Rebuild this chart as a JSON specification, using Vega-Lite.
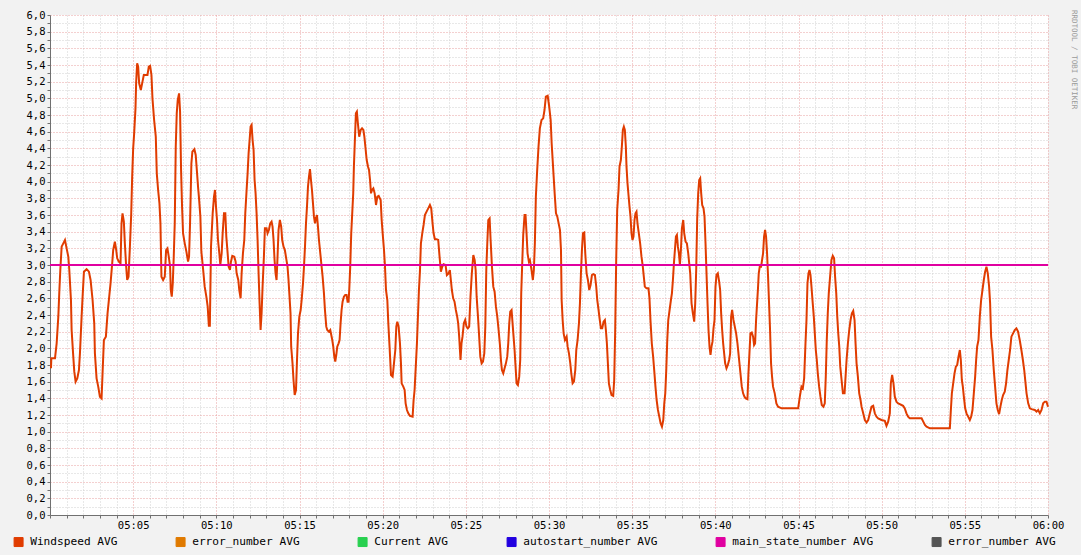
{
 "$schema": "https://vega.github.io/schema/vega-lite/v6.json",
 "width": 998, "height": 500,
 "autosize": {"type": "none"},
 "padding": {"left": 50, "top": 15, "right": 33, "bottom": 40},
 "background": "#F2F2F2",
 "view": {"fill": "#FFFFFF", "stroke": null},
 "title": {"text": "RRDTOOL / TOBI OETIKER", "orient": "right", "anchor": "start", "font": "DejaVu Sans Mono", "fontSize": 7.5, "fontWeight": "normal", "color": "#9a9a9a", "offset": 7},
 "config": {"font": "DejaVu Sans Mono"},
 "datasets": {
  "wind": [
{"t":0.06,"v":1.76},{"t":0.08,"v":1.88},{"t":0.30,"v":1.88},{"t":0.40,"v":2.06},{"t":0.50,"v":2.38},{"t":0.56,"v":2.68},{"t":0.62,"v":2.94},{"t":0.70,"v":3.22},{"t":0.80,"v":3.26},{"t":0.90,"v":3.30},{"t":1.00,"v":3.20},{"t":1.10,"v":3.10},{"t":1.16,"v":2.94},{"t":1.26,"v":2.58},{"t":1.30,"v":2.22},{"t":1.40,"v":1.90},{"t":1.46,"v":1.72},{"t":1.54,"v":1.60},{"t":1.64,"v":1.64},{"t":1.74,"v":1.74},{"t":1.80,"v":1.94},{"t":1.90,"v":2.38},{"t":1.96,"v":2.62},{"t":2.04,"v":2.92},{"t":2.20,"v":2.95},{"t":2.34,"v":2.92},{"t":2.44,"v":2.82},{"t":2.56,"v":2.58},{"t":2.66,"v":2.30},{"t":2.70,"v":1.94},{"t":2.80,"v":1.64},{"t":2.90,"v":1.54},{"t":3.00,"v":1.42},{"t":3.10,"v":1.40},{"t":3.16,"v":1.70},{"t":3.24,"v":2.10},{"t":3.36,"v":2.14},{"t":3.46,"v":2.42},{"t":3.56,"v":2.62},{"t":3.64,"v":2.78},{"t":3.74,"v":3.02},{"t":3.80,"v":3.18},{"t":3.90,"v":3.28},{"t":3.98,"v":3.18},{"t":4.04,"v":3.08},{"t":4.14,"v":3.04},{"t":4.24,"v":3.02},{"t":4.30,"v":3.50},{"t":4.36,"v":3.62},{"t":4.44,"v":3.52},{"t":4.50,"v":3.26},{"t":4.58,"v":2.98},{"t":4.64,"v":2.82},{"t":4.72,"v":2.86},{"t":4.80,"v":3.20},{"t":4.88,"v":3.60},{"t":4.94,"v":4.06},{"t":5.00,"v":4.40},{"t":5.06,"v":4.58},{"t":5.14,"v":4.88},{"t":5.18,"v":5.20},{"t":5.24,"v":5.42},{"t":5.30,"v":5.38},{"t":5.36,"v":5.18},{"t":5.46,"v":5.10},{"t":5.54,"v":5.18},{"t":5.64,"v":5.28},{"t":5.86,"v":5.28},{"t":5.94,"v":5.38},{"t":6.02,"v":5.39},{"t":6.10,"v":5.28},{"t":6.16,"v":5.00},{"t":6.26,"v":4.74},{"t":6.36,"v":4.54},{"t":6.42,"v":4.10},{"t":6.50,"v":3.90},{"t":6.58,"v":3.74},{"t":6.64,"v":3.50},{"t":6.70,"v":2.86},{"t":6.80,"v":2.82},{"t":6.90,"v":2.86},{"t":6.98,"v":3.18},{"t":7.06,"v":3.20},{"t":7.14,"v":3.10},{"t":7.22,"v":2.98},{"t":7.26,"v":2.70},{"t":7.32,"v":2.62},{"t":7.38,"v":2.78},{"t":7.44,"v":3.10},{"t":7.50,"v":3.50},{"t":7.56,"v":4.42},{"t":7.62,"v":4.82},{"t":7.68,"v":4.98},{"t":7.76,"v":5.06},{"t":7.82,"v":4.84},{"t":7.88,"v":4.14},{"t":7.94,"v":3.70},{"t":8.00,"v":3.38},{"t":8.10,"v":3.26},{"t":8.20,"v":3.16},{"t":8.30,"v":3.04},{"t":8.36,"v":3.10},{"t":8.42,"v":3.50},{"t":8.50,"v":4.22},{"t":8.56,"v":4.36},{"t":8.68,"v":4.39},{"t":8.76,"v":4.32},{"t":8.82,"v":4.16},{"t":8.90,"v":3.94},{"t":8.96,"v":3.80},{"t":9.04,"v":3.58},{"t":9.10,"v":3.16},{"t":9.20,"v":2.96},{"t":9.30,"v":2.74},{"t":9.40,"v":2.62},{"t":9.48,"v":2.50},{"t":9.55,"v":2.27},{"t":9.61,"v":2.27},
{"t":9.68,"v":3.22},{"t":9.78,"v":3.62},{"t":9.86,"v":3.82},{"t":9.92,"v":3.90},{"t":9.98,"v":3.70},{"t":10.04,"v":3.54},{"t":10.10,"v":3.30},{"t":10.18,"v":3.14},{"t":10.24,"v":3.00},{"t":10.32,"v":3.14},{"t":10.38,"v":3.38},{"t":10.46,"v":3.62},{"t":10.54,"v":3.62},{"t":10.60,"v":3.34},{"t":10.68,"v":3.14},{"t":10.74,"v":2.98},{"t":10.82,"v":2.94},{"t":10.88,"v":3.04},{"t":10.96,"v":3.11},{"t":11.08,"v":3.10},{"t":11.16,"v":3.04},{"t":11.22,"v":2.90},{"t":11.32,"v":2.82},{"t":11.38,"v":2.70},{"t":11.46,"v":2.60},{"t":11.52,"v":2.90},{"t":11.60,"v":3.14},{"t":11.68,"v":3.30},{"t":11.74,"v":3.62},{"t":11.82,"v":3.90},{"t":11.88,"v":4.10},{"t":11.94,"v":4.34},{"t":12.00,"v":4.50},{"t":12.06,"v":4.66},{"t":12.12,"v":4.68},{"t":12.18,"v":4.50},{"t":12.24,"v":4.38},{"t":12.30,"v":4.02},{"t":12.36,"v":3.86},{"t":12.42,"v":3.62},{"t":12.48,"v":3.30},{"t":12.54,"v":2.90},{"t":12.60,"v":2.54},{"t":12.66,"v":2.22},{"t":12.72,"v":2.42},{"t":12.78,"v":2.74},{"t":12.86,"v":3.10},{"t":12.92,"v":3.44},{"t":13.02,"v":3.44},{"t":13.08,"v":3.38},{"t":13.16,"v":3.42},{"t":13.24,"v":3.50},{"t":13.32,"v":3.52},{"t":13.38,"v":3.46},{"t":13.44,"v":3.30},{"t":13.50,"v":3.06},{"t":13.56,"v":2.90},{"t":13.62,"v":2.82},{"t":13.68,"v":3.10},{"t":13.74,"v":3.42},{"t":13.82,"v":3.54},{"t":13.90,"v":3.46},{"t":13.96,"v":3.30},{"t":14.04,"v":3.22},{"t":14.12,"v":3.18},{"t":14.20,"v":3.08},{"t":14.28,"v":2.98},{"t":14.34,"v":2.82},{"t":14.40,"v":2.62},{"t":14.46,"v":2.42},{"t":14.50,"v":2.02},{"t":14.58,"v":1.82},{"t":14.64,"v":1.62},{"t":14.71,"v":1.44},{"t":14.79,"v":1.50},{"t":14.85,"v":1.86},{"t":14.91,"v":2.18},{"t":14.99,"v":2.38},{"t":15.07,"v":2.46},{"t":15.13,"v":2.58},{"t":15.21,"v":2.78},{"t":15.27,"v":2.98},{"t":15.33,"v":3.22},{"t":15.39,"v":3.50},{"t":15.45,"v":3.70},{"t":15.51,"v":3.94},{"t":15.57,"v":4.06},{"t":15.63,"v":4.15},{"t":15.69,"v":4.02},{"t":15.75,"v":3.90},{"t":15.81,"v":3.74},{"t":15.87,"v":3.58},{"t":15.93,"v":3.50},{"t":15.99,"v":3.56},{"t":16.05,"v":3.60},{"t":16.11,"v":3.46},{"t":16.17,"v":3.30},{"t":16.23,"v":3.18},{"t":16.31,"v":3.02},{"t":16.39,"v":2.86},{"t":16.47,"v":2.66},{"t":16.53,"v":2.46},{"t":16.61,"v":2.26},{"t":16.67,"v":2.22},{"t":16.77,"v":2.20},{"t":16.85,"v":2.22},{"t":16.91,"v":2.16},{"t":16.97,"v":2.10},{"t":17.03,"v":2.02},{"t":17.09,"v":1.90},{"t":17.15,"v":1.84},{"t":17.21,"v":1.92},{"t":17.27,"v":2.02},{"t":17.35,"v":2.06},{"t":17.41,"v":2.10},{"t":17.47,"v":2.30},{"t":17.53,"v":2.46},{"t":17.59,"v":2.56},{"t":17.67,"v":2.62},{"t":17.75,"v":2.64},{"t":17.83,"v":2.64},{"t":17.89,"v":2.56},{"t":17.95,"v":2.56},{"t":17.99,"v":2.70},{"t":18.05,"v":2.98},{"t":18.11,"v":3.38},{"t":18.17,"v":3.62},{"t":18.23,"v":3.86},{"t":18.27,"v":4.18},{"t":18.33,"v":4.50},{"t":18.39,"v":4.82},{"t":18.45,"v":4.84},{"t":18.51,"v":4.70},{"t":18.59,"v":4.54},{"t":18.68,"v":4.62},{"t":18.76,"v":4.64},{"t":18.84,"v":4.62},{"t":18.90,"v":4.54},{"t":18.98,"v":4.38},{"t":19.04,"v":4.26},{"t":19.12,"v":4.18},{"t":19.18,"v":4.14},{"t":19.24,"v":4.02},{"t":19.30,"v":3.86},{"t":19.36,"v":3.90},{"t":19.44,"v":3.92},{"t":19.52,"v":3.86},{"t":19.60,"v":3.72},{"t":19.68,"v":3.82},{"t":19.76,"v":3.83},
{"t":19.88,"v":3.78},{"t":19.94,"v":3.54},{"t":20.00,"v":3.38},{"t":20.08,"v":3.18},{"t":20.14,"v":2.98},{"t":20.20,"v":2.70},{"t":20.28,"v":2.58},{"t":20.34,"v":2.30},{"t":20.42,"v":2.00},{"t":20.50,"v":1.68},{"t":20.60,"v":1.66},{"t":20.68,"v":1.82},{"t":20.76,"v":1.98},{"t":20.82,"v":2.26},{"t":20.88,"v":2.32},{"t":20.96,"v":2.26},{"t":21.04,"v":2.06},{"t":21.10,"v":1.82},{"t":21.14,"v":1.58},{"t":21.24,"v":1.54},{"t":21.32,"v":1.50},{"t":21.38,"v":1.34},{"t":21.46,"v":1.26},{"t":21.54,"v":1.22},{"t":21.64,"v":1.19},{"t":21.80,"v":1.18},{"t":21.86,"v":1.38},{"t":21.92,"v":1.50},{"t":22.00,"v":1.82},{"t":22.06,"v":2.06},{"t":22.12,"v":2.38},{"t":22.18,"v":2.70},{"t":22.24,"v":2.92},{"t":22.30,"v":3.26},{"t":22.38,"v":3.38},{"t":22.46,"v":3.48},{"t":22.54,"v":3.60},{"t":22.64,"v":3.64},{"t":22.74,"v":3.68},{"t":22.84,"v":3.72},{"t":22.92,"v":3.68},{"t":23.00,"v":3.50},{"t":23.06,"v":3.38},{"t":23.14,"v":3.31},{"t":23.24,"v":3.31},{"t":23.34,"v":3.30},{"t":23.42,"v":3.10},{"t":23.50,"v":2.92},{"t":23.58,"v":2.98},{"t":23.66,"v":3.01},{"t":23.78,"v":3.00},{"t":23.86,"v":2.88},{"t":23.96,"v":2.90},{"t":24.04,"v":2.94},{"t":24.10,"v":2.82},{"t":24.16,"v":2.70},{"t":24.24,"v":2.60},{"t":24.32,"v":2.56},{"t":24.40,"v":2.46},{"t":24.48,"v":2.38},{"t":24.54,"v":2.30},{"t":24.60,"v":2.14},{"t":24.68,"v":1.86},{"t":24.74,"v":2.06},{"t":24.80,"v":2.14},{"t":24.88,"v":2.30},{"t":24.96,"v":2.34},{"t":25.04,"v":2.26},{"t":25.12,"v":2.24},{"t":25.20,"v":2.26},{"t":25.28,"v":2.62},{"t":25.36,"v":2.90},{"t":25.45,"v":3.12},{"t":25.53,"v":3.06},{"t":25.59,"v":2.94},{"t":25.65,"v":2.62},{"t":25.73,"v":2.38},{"t":25.79,"v":2.18},{"t":25.87,"v":1.90},{"t":25.95,"v":1.82},{"t":26.03,"v":1.84},{"t":26.11,"v":1.94},{"t":26.17,"v":2.26},{"t":26.23,"v":2.94},{"t":26.29,"v":3.26},{"t":26.35,"v":3.54},{"t":26.43,"v":3.56},{"t":26.49,"v":3.30},{"t":26.57,"v":2.98},{"t":26.65,"v":2.74},{"t":26.73,"v":2.68},{"t":26.81,"v":2.50},{"t":26.89,"v":2.38},{"t":26.97,"v":2.22},{"t":27.05,"v":2.04},{"t":27.11,"v":1.86},{"t":27.17,"v":1.74},{"t":27.25,"v":1.70},{"t":27.33,"v":1.76},{"t":27.41,"v":1.82},{"t":27.49,"v":1.90},{"t":27.55,"v":2.06},{"t":27.61,"v":2.30},{"t":27.67,"v":2.44},{"t":27.75,"v":2.46},{"t":27.81,"v":2.30},{"t":27.87,"v":2.14},{"t":27.93,"v":1.98},{"t":27.99,"v":1.78},{"t":28.05,"v":1.58},{"t":28.13,"v":1.56},{"t":28.21,"v":1.66},{"t":28.27,"v":1.86},{"t":28.33,"v":2.66},{"t":28.39,"v":3.02},{"t":28.45,"v":3.36},{"t":28.53,"v":3.60},{"t":28.59,"v":3.60},{"t":28.65,"v":3.38},{"t":28.71,"v":3.14},{"t":28.79,"v":3.04},
{"t":28.85,"v":3.06},{"t":28.95,"v":2.94},{"t":29.03,"v":2.82},{"t":29.09,"v":2.94},{"t":29.15,"v":3.26},{"t":29.21,"v":3.82},{"t":29.29,"v":4.14},{"t":29.37,"v":4.42},{"t":29.45,"v":4.64},{"t":29.55,"v":4.74},{"t":29.65,"v":4.76},{"t":29.73,"v":4.86},{"t":29.81,"v":5.02},{"t":29.92,"v":5.03},{"t":30.00,"v":4.92},{"t":30.10,"v":4.74},{"t":30.16,"v":4.46},{"t":30.22,"v":4.26},{"t":30.28,"v":4.06},{"t":30.34,"v":3.86},{"t":30.42,"v":3.62},{"t":30.50,"v":3.58},{"t":30.58,"v":3.50},{"t":30.66,"v":3.42},{"t":30.72,"v":3.18},{"t":30.76,"v":2.58},{"t":30.82,"v":2.34},{"t":30.88,"v":2.18},{"t":30.96,"v":2.10},{"t":31.06,"v":2.14},{"t":31.12,"v":2.02},{"t":31.20,"v":1.94},{"t":31.28,"v":1.82},{"t":31.34,"v":1.70},{"t":31.42,"v":1.58},{"t":31.50,"v":1.60},{"t":31.58,"v":1.74},{"t":31.64,"v":1.98},{"t":31.72,"v":2.10},{"t":31.80,"v":2.30},{"t":31.86,"v":2.54},{"t":31.92,"v":2.90},{"t":31.98,"v":3.18},{"t":32.04,"v":3.38},{"t":32.12,"v":3.39},{"t":32.18,"v":3.14},{"t":32.26,"v":2.90},{"t":32.34,"v":2.82},{"t":32.42,"v":2.70},{"t":32.50,"v":2.76},{"t":32.58,"v":2.88},{"t":32.66,"v":2.89},{"t":32.76,"v":2.88},{"t":32.84,"v":2.74},{"t":32.90,"v":2.58},{"t":32.98,"v":2.46},{"t":33.04,"v":2.36},{"t":33.12,"v":2.24},{"t":33.20,"v":2.24},{"t":33.28,"v":2.32},{"t":33.36,"v":2.34},{"t":33.42,"v":2.22},{"t":33.48,"v":2.06},{"t":33.54,"v":1.82},{"t":33.60,"v":1.58},{"t":33.68,"v":1.50},{"t":33.76,"v":1.44},{"t":33.86,"v":1.43},{"t":33.92,"v":1.62},{"t":33.98,"v":2.22},{"t":34.04,"v":3.06},{"t":34.10,"v":3.66},{"t":34.18,"v":3.90},{"t":34.24,"v":4.18},{"t":34.32,"v":4.26},{"t":34.38,"v":4.42},{"t":34.44,"v":4.62},{"t":34.50,"v":4.66},{"t":34.56,"v":4.62},{"t":34.62,"v":4.42},{"t":34.66,"v":4.18},{"t":34.72,"v":3.98},{"t":34.78,"v":3.84},{"t":34.84,"v":3.70},{"t":34.90,"v":3.58},{"t":34.96,"v":3.38},{"t":35.02,"v":3.30},{"t":35.08,"v":3.34},{"t":35.14,"v":3.54},{"t":35.20,"v":3.62},{"t":35.26,"v":3.64},{"t":35.32,"v":3.50},{"t":35.40,"v":3.38},{"t":35.48,"v":3.26},{"t":35.56,"v":3.10},{"t":35.64,"v":2.98},{"t":35.70,"v":2.86},{"t":35.76,"v":2.74},{"t":35.86,"v":2.72},{"t":35.98,"v":2.72},{"t":36.04,"v":2.60},{"t":36.10,"v":2.34},{"t":36.18,"v":2.06},{"t":36.26,"v":1.90},{"t":36.34,"v":1.70},{"t":36.40,"v":1.54},{"t":36.47,"v":1.38},{"t":36.55,"v":1.26},{"t":36.63,"v":1.18},{"t":36.71,"v":1.10},{"t":36.79,"v":1.06},{"t":36.87,"v":1.14},{"t":36.93,"v":1.34},{"t":36.99,"v":1.46},{"t":37.05,"v":1.74},{"t":37.11,"v":2.10},{"t":37.17,"v":2.34},{"t":37.25,"v":2.46},{"t":37.33,"v":2.58},{"t":37.39,"v":2.66},{"t":37.45,"v":2.82},{"t":37.51,"v":3.02},{"t":37.57,"v":3.18},{"t":37.63,"v":3.34},{"t":37.69,"v":3.36},{"t":37.75,"v":3.22},{"t":37.81,"v":3.14},{"t":37.87,"v":3.00},{"t":37.93,"v":3.18},{"t":37.99,"v":3.44},{"t":38.07,"v":3.54},{"t":38.13,"v":3.38},{"t":38.21,"v":3.28},{"t":38.29,"v":3.26},{"t":38.37,"v":3.14},{"t":38.43,"v":3.02},{"t":38.49,"v":2.90},
{"t":38.57,"v":2.54},{"t":38.65,"v":2.42},{"t":38.73,"v":2.32},{"t":38.79,"v":2.54},{"t":38.85,"v":2.94},{"t":38.91,"v":3.56},{"t":38.97,"v":3.86},{"t":39.03,"v":4.02},{"t":39.09,"v":4.04},{"t":39.15,"v":3.86},{"t":39.21,"v":3.72},{"t":39.29,"v":3.68},{"t":39.35,"v":3.58},{"t":39.41,"v":3.26},{"t":39.47,"v":2.90},{"t":39.53,"v":2.54},{"t":39.59,"v":2.22},{"t":39.65,"v":2.02},{"t":39.71,"v":1.92},{"t":39.77,"v":2.02},{"t":39.83,"v":2.08},{"t":39.89,"v":2.24},{"t":39.95,"v":2.34},{"t":40.01,"v":2.74},{"t":40.07,"v":2.88},{"t":40.15,"v":2.90},{"t":40.23,"v":2.80},{"t":40.29,"v":2.70},{"t":40.35,"v":2.42},{"t":40.41,"v":2.22},{"t":40.47,"v":2.06},{"t":40.53,"v":1.94},{"t":40.59,"v":1.82},{"t":40.67,"v":1.76},{"t":40.75,"v":1.80},{"t":40.83,"v":1.86},{"t":40.89,"v":1.94},{"t":40.95,"v":2.38},{"t":41.01,"v":2.46},{"t":41.09,"v":2.34},{"t":41.17,"v":2.26},{"t":41.25,"v":2.18},{"t":41.33,"v":2.06},{"t":41.41,"v":1.90},{"t":41.49,"v":1.74},{"t":41.59,"v":1.54},{"t":41.67,"v":1.46},{"t":41.75,"v":1.42},{"t":41.83,"v":1.40},{"t":41.93,"v":1.39},{"t":41.99,"v":1.70},{"t":42.05,"v":1.94},{"t":42.11,"v":2.18},{"t":42.19,"v":2.19},{"t":42.27,"v":2.14},{"t":42.33,"v":2.04},{"t":42.39,"v":2.06},{"t":42.45,"v":2.34},{"t":42.51,"v":2.54},{"t":42.57,"v":2.74},{"t":42.61,"v":2.90},{"t":42.67,"v":2.98},{"t":42.75,"v":2.98},{"t":42.81,"v":3.06},{"t":42.87,"v":3.14},{"t":42.93,"v":3.34},{"t":42.99,"v":3.42},{"t":43.05,"v":3.34},{"t":43.11,"v":3.14},{"t":43.17,"v":2.86},{"t":43.23,"v":2.54},{"t":43.29,"v":2.22},{"t":43.35,"v":1.82},{"t":43.41,"v":1.66},{"t":43.47,"v":1.54},{"t":43.57,"v":1.46},{"t":43.67,"v":1.34},{"t":43.77,"v":1.30},{"t":43.98,"v":1.28},{"t":44.48,"v":1.28},{"t":44.98,"v":1.28},{"t":45.08,"v":1.42},{"t":45.18,"v":1.54},{"t":45.26,"v":1.52},{"t":45.34,"v":1.64},{"t":45.42,"v":2.06},{"t":45.48,"v":2.34},{"t":45.54,"v":2.78},{"t":45.60,"v":2.90},{"t":45.66,"v":2.94},{"t":45.72,"v":2.88},{"t":45.78,"v":2.74},{"t":45.84,"v":2.58},{"t":45.92,"v":2.38},{"t":45.98,"v":2.18},{"t":46.04,"v":1.98},{"t":46.10,"v":1.86},{"t":46.16,"v":1.70},{"t":46.24,"v":1.54},{"t":46.32,"v":1.42},{"t":46.40,"v":1.32},{"t":46.50,"v":1.30},{"t":46.58,"v":1.34},{"t":46.64,"v":1.66},{"t":46.70,"v":2.10},{"t":46.76,"v":2.42},{"t":46.82,"v":2.66},{"t":46.90,"v":2.86},{"t":46.98,"v":3.06},{"t":47.06,"v":3.11},{"t":47.14,"v":3.08},{"t":47.20,"v":2.86},{"t":47.27,"v":2.66},{"t":47.33,"v":2.38},{"t":47.39,"v":2.18},{"t":47.45,"v":2.02},{"t":47.51,"v":1.78},{"t":47.59,"v":1.62},{"t":47.67,"v":1.46},{"t":47.77,"v":1.46},{"t":47.83,"v":1.66},{"t":47.89,"v":1.86},{"t":47.97,"v":2.06},{"t":48.05,"v":2.22},{"t":48.13,"v":2.34},{"t":48.21,"v":2.42},{"t":48.29,"v":2.45},{"t":48.37,"v":2.34},{"t":48.43,"v":2.06},{"t":48.49,"v":1.82},{"t":48.57,"v":1.66},{"t":48.65,"v":1.46},{"t":48.73,"v":1.38},
{"t":48.79,"v":1.30},{"t":48.89,"v":1.22},{"t":48.99,"v":1.14},{"t":49.09,"v":1.11},{"t":49.19,"v":1.14},{"t":49.29,"v":1.22},{"t":49.39,"v":1.30},{"t":49.49,"v":1.31},{"t":49.59,"v":1.22},{"t":49.69,"v":1.18},{"t":49.79,"v":1.16},{"t":49.99,"v":1.14},{"t":50.19,"v":1.13},{"t":50.29,"v":1.07},{"t":50.39,"v":1.12},{"t":50.49,"v":1.22},{"t":50.55,"v":1.58},{"t":50.63,"v":1.68},{"t":50.71,"v":1.58},{"t":50.79,"v":1.42},{"t":50.89,"v":1.36},{"t":50.99,"v":1.34},{"t":51.09,"v":1.33},{"t":51.19,"v":1.32},{"t":51.29,"v":1.31},{"t":51.39,"v":1.28},{"t":51.49,"v":1.22},{"t":51.59,"v":1.18},{"t":51.69,"v":1.16},{"t":52.40,"v":1.16},{"t":52.50,"v":1.12},{"t":52.60,"v":1.08},{"t":52.70,"v":1.06},{"t":52.90,"v":1.04},{"t":54.10,"v":1.04},{"t":54.16,"v":1.26},{"t":54.22,"v":1.46},{"t":54.30,"v":1.58},{"t":54.38,"v":1.70},{"t":54.46,"v":1.78},{"t":54.54,"v":1.80},{"t":54.62,"v":1.90},{"t":54.70,"v":1.98},{"t":54.76,"v":1.86},{"t":54.82,"v":1.62},{"t":54.88,"v":1.54},{"t":54.94,"v":1.42},{"t":55.02,"v":1.28},{"t":55.10,"v":1.22},{"t":55.20,"v":1.18},{"t":55.30,"v":1.14},{"t":55.38,"v":1.18},{"t":55.46,"v":1.26},{"t":55.54,"v":1.46},{"t":55.62,"v":1.66},{"t":55.68,"v":1.86},{"t":55.74,"v":2.02},{"t":55.82,"v":2.10},{"t":55.90,"v":2.38},{"t":55.98,"v":2.58},{"t":56.06,"v":2.70},{"t":56.14,"v":2.82},{"t":56.22,"v":2.92},{"t":56.30,"v":2.98},{"t":56.38,"v":2.90},{"t":56.46,"v":2.74},{"t":56.52,"v":2.54},{"t":56.58,"v":2.14},{"t":56.66,"v":1.98},{"t":56.74,"v":1.74},{"t":56.82,"v":1.54},{"t":56.90,"v":1.34},{"t":56.98,"v":1.26},{"t":57.06,"v":1.21},{"t":57.14,"v":1.30},{"t":57.22,"v":1.38},{"t":57.30,"v":1.44},{"t":57.40,"v":1.48},{"t":57.48,"v":1.58},{"t":57.56,"v":1.74},{"t":57.64,"v":1.86},{"t":57.72,"v":1.98},{"t":57.80,"v":2.14},{"t":57.90,"v":2.18},{"t":58.00,"v":2.22},{"t":58.10,"v":2.24},{"t":58.20,"v":2.20},{"t":58.30,"v":2.10},{"t":58.40,"v":1.98},{"t":58.49,"v":1.86},{"t":58.57,"v":1.74},{"t":58.65,"v":1.58},{"t":58.71,"v":1.46},{"t":58.81,"v":1.34},{"t":58.91,"v":1.28},{"t":59.01,"v":1.27},{"t":59.21,"v":1.26},{"t":59.31,"v":1.24},{"t":59.41,"v":1.26},{"t":59.51,"v":1.22},{"t":59.61,"v":1.26},{"t":59.71,"v":1.34},{"t":59.81,"v":1.36},{"t":59.91,"v":1.36},{"t":60.00,"v":1.30}
  ],
  "state": [{"t":0,"v":3.0},{"t":60,"v":3.0}]
 },
 "encoding": {
  "x": {"field": "t", "type": "quantitative",
   "scale": {"domain": [0, 60], "nice": false, "zero": false},
   "axis": {
    "title": null,
    "values": [0,1,2,3,4,5,6,7,8,9,10,11,12,13,14,15,16,17,18,19,20,21,22,23,24,25,26,27,28,29,30,31,32,33,34,35,36,37,38,39,40,41,42,43,44,45,46,47,48,49,50,51,52,53,54,55,56,57,58,59,60],
    "labelExpr": "datum.value % 5 == 0 && datum.value > 0 ? (datum.value == 60 ? '06:00' : '05:' + (datum.value < 10 ? '0' : '') + datum.value) : ''",
    "labelFont": "DejaVu Sans Mono", "labelFontSize": 10.5, "labelColor": "#000000",
    "labelOverlap": false, "labelBound": false, "labelFlush": false, "labelPadding": 2,
    "grid": true,
    "gridColor": {"condition": {"test": "datum.value % 5 == 0", "value": "#E8A0A0"}, "value": "#D0D0D0"},
    "gridDash": [1, 2], "gridWidth": 1,
    "domainColor": "#707070", "domainWidth": 1,
    "tickColor": "#707070", "tickSize": 3, "tickWidth": 1
   }
  },
  "y": {"field": "v", "type": "quantitative",
   "scale": {"domain": [0, 6], "nice": false, "zero": true},
   "axis": {
    "title": null,
    "values": [0,0.1,0.2,0.3,0.4,0.5,0.6,0.7,0.8,0.9,1,1.1,1.2,1.3,1.4,1.5,1.6,1.7,1.8,1.9,2,2.1,2.2,2.3,2.4,2.5,2.6,2.7,2.8,2.9,3,3.1,3.2,3.3,3.4,3.5,3.6,3.7,3.8,3.9,4,4.1,4.2,4.3,4.4,4.5,4.6,4.7,4.8,4.9,5,5.1,5.2,5.3,5.4,5.5,5.6,5.7,5.8,5.9,6],
    "labelExpr": "round(datum.value * 10) % 2 == 0 ? replace(format(datum.value, '.1f'), '.', ',') : ''",
    "labelFont": "DejaVu Sans Mono", "labelFontSize": 10.5, "labelColor": "#000000",
    "labelOverlap": false, "labelBound": false, "labelFlush": false, "labelPadding": 2,
    "grid": true,
    "gridColor": {"condition": {"test": "round(datum.value * 10) % 2 == 0", "value": "#E8A0A0"}, "value": "#D0D0D0"},
    "gridDash": [1, 2], "gridWidth": 1,
    "domainColor": "#707070", "domainWidth": 1,
    "tickColor": "#707070", "tickSize": 3, "tickWidth": 1
   }
  }
 },
 "layer": [
  {
   "data": {"name": "wind"},
   "mark": {"type": "line", "strokeWidth": 2, "interpolate": "linear"},
   "encoding": {
    "color": {"datum": "Windspeed AVG", "type": "nominal",
     "scale": {
      "domain": ["Windspeed AVG", "error_number AVG", "Current AVG", "autostart_number AVG", "main_state_number AVG", "error_number AVG (2)"],
      "range": ["#E03C00", "#E07A00", "#28D050", "#2200E0", "#E000A0", "#555555"]
     },
     "legend": {
      "orient": "none", "legendX": -37, "legendY": 521, "direction": "horizontal", "columns": 6,
      "columnPadding": 56, "title": null, "padding": 0,
      "symbolType": "square", "symbolSize": 81, "symbolStrokeColor": "#000000", "symbolStrokeWidth": 1,
      "labelFont": "DejaVu Sans Mono", "labelFontSize": 11.17, "labelColor": "#000000", "labelOffset": 6,
      "labelExpr": "datum.label == 'error_number AVG (2)' ? 'error_number AVG' : datum.label",
      "encode": {"symbols": {"update": {"fill": {"scale": "color", "field": "value"}, "fillOpacity": {"value": 1}, "stroke": {"value": "#000000"}, "strokeWidth": {"value": 1}}}}
     }
    }
   }
  },
  {
   "data": {"name": "state"},
   "mark": {"type": "line", "strokeWidth": 2},
   "encoding": {
    "color": {"datum": "main_state_number AVG", "type": "nominal"}
   }
  }
 ]
}
